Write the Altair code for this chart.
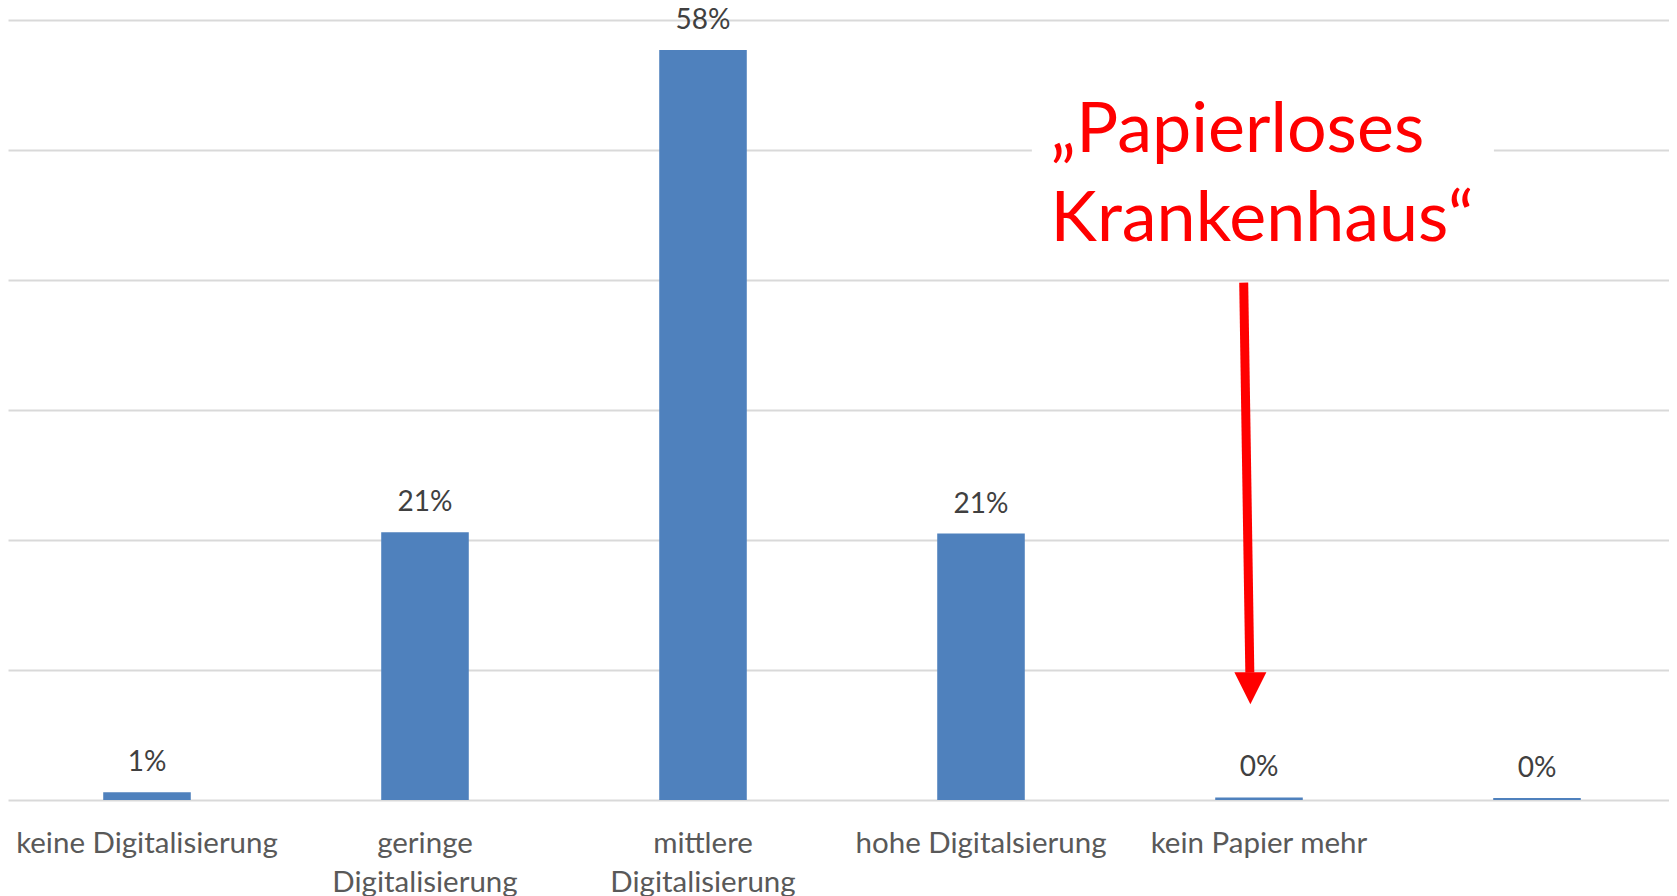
import altair as alt
import pandas as pd

# ---- data -------------------------------------------------------------
categories = [
    "keine Digitalisierung",
    "geringe Digitalisierung",
    "mittlere Digitalisierung",
    "hohe Digitalsierung",
    "kein Papier mehr",
    " ",
]
values = [0.006, 0.206, 0.577, 0.205, 0.002, 0.0015]
value_labels = ["1%", "21%", "58%", "21%", "0%", "0%"]
wrapped_labels = {
    "geringe Digitalisierung": ["geringe", "Digitalisierung"],
    "mittlere Digitalisierung": ["mittlere", "Digitalisierung"],
}
grid_values = [0.0, 0.1, 0.2, 0.3, 0.4, 0.5, 0.6]

annotation_text = ["\u201ePapierloses", "Krankenhaus\u201c"]
annotation_pos = [3.75, 0.5145]          # slot units / value units
box_x = [3.683, 5.345]
box_y = [0.42, 0.58]
arrow_x = [4.445, 4.467]
arrow_y = [0.398, 0.098]
arrow_head = [4.469, 0.086]

df = pd.DataFrame({"cat": categories, "val": values, "lab": value_labels})

# label expression for wrapped axis labels
expr = "datum.label"
for k, lines in wrapped_labels.items():
    arr = "[" + ",".join("'" + l + "'" for l in lines) + "]"
    expr = f"datum.label == '{k}' ? {arr} : ({expr})"

FONT = "Lato"
BLUE = "#4F81BD"
RED = "#FF0000"
RANGE = [0, 1668]

x_enc = alt.X(
    "cat:N",
    sort=categories,
    scale=alt.Scale(paddingInner=0.685, paddingOuter=0.3425, range=RANGE),
    axis=alt.Axis(
        title=None,
        labelAngle=0,
        labelExpr=expr,
        labelFont=FONT,
        labelFontSize=29.5,
        labelColor="#595959",
        labelPadding=29,
        labelLineHeight=39,
        labelBaseline="top",
        ticks=False,
        domain=False,
        grid=False,
        labelOverlap=False,
        labelLimit=400,
    ),
)
y_axis = alt.Axis(
    title=None,
    labels=False,
    ticks=False,
    domain=False,
    grid=True,
    gridColor="#D9D9D9",
    gridWidth=2,
    values=grid_values,
)
y_enc = alt.Y("val:Q", scale=alt.Scale(domain=[0, 0.6], nice=False), axis=y_axis)

bars = alt.Chart(df).mark_bar(color=BLUE).encode(x=x_enc, y=y_enc)
texts = alt.Chart(df).mark_text(
    font=FONT, fontSize=28, color="#404040", baseline="middle", dy=-29
).encode(x=alt.X("cat:N", sort=categories), y=alt.Y("val:Q", axis=y_axis), text="lab:N")

main = alt.layer(bars, texts)

xq = alt.Scale(domain=[0, 6], nice=False, zero=False, range=RANGE)
ann_df = pd.DataFrame({"x": [annotation_pos[0]], "y": [annotation_pos[1]],
                       "t": ["\n".join(annotation_text)]})
box_df = pd.DataFrame({"x": [box_x[0]], "x2": [box_x[1]], "y": [box_y[0]], "y2": [box_y[1]]})
arrow_df = pd.DataFrame({"x": [arrow_x[0]], "x2": [arrow_x[1]], "y": [arrow_y[0]], "y2": [arrow_y[1]]})
head_df = pd.DataFrame({"x": [arrow_head[0]], "y": [arrow_head[1]]})

box = alt.Chart(box_df).mark_rect(color="white").encode(
    x=alt.X("x:Q", scale=xq, axis=None), x2="x2:Q",
    y=alt.Y("y:Q", axis=y_axis), y2="y2:Q")
ann = alt.Chart(ann_df).mark_text(
    font=FONT, fontSize=70, color=RED, align="left", baseline="middle",
    lineBreak="\n", lineHeight=89
).encode(x=alt.X("x:Q", scale=xq, axis=None), y=alt.Y("y:Q", axis=y_axis), text="t:N")
arrow = alt.Chart(arrow_df).mark_rule(color=RED, strokeWidth=9).encode(
    x=alt.X("x:Q", scale=xq, axis=None), x2="x2:Q",
    y=alt.Y("y:Q", axis=y_axis), y2="y2:Q")
head = alt.Chart(head_df).mark_point(
    shape="M -1 -1 L 1 -1 L 0 1 Z", filled=True, color=RED, opacity=1, size=1024,
    strokeWidth=0
).encode(x=alt.X("x:Q", scale=xq, axis=None), y=alt.Y("y:Q", axis=y_axis))

annot = alt.layer(box, ann, arrow, head)

chart = alt.layer(main, annot).resolve_scale(x="independent").properties(
    width=1661, height=780,
    autosize=alt.AutoSizeParams(type="none"),
    padding={"left": 0, "top": 12, "right": 0, "bottom": 96},
    background="white",
).configure_view(stroke=None, strokeWidth=0).configure_axis(
    domain=False
).configure_axisX(grid=False).configure_axisY(domain=False)

chart.save("out.html", embed_options={"renderer": "svg", "actions": False})
